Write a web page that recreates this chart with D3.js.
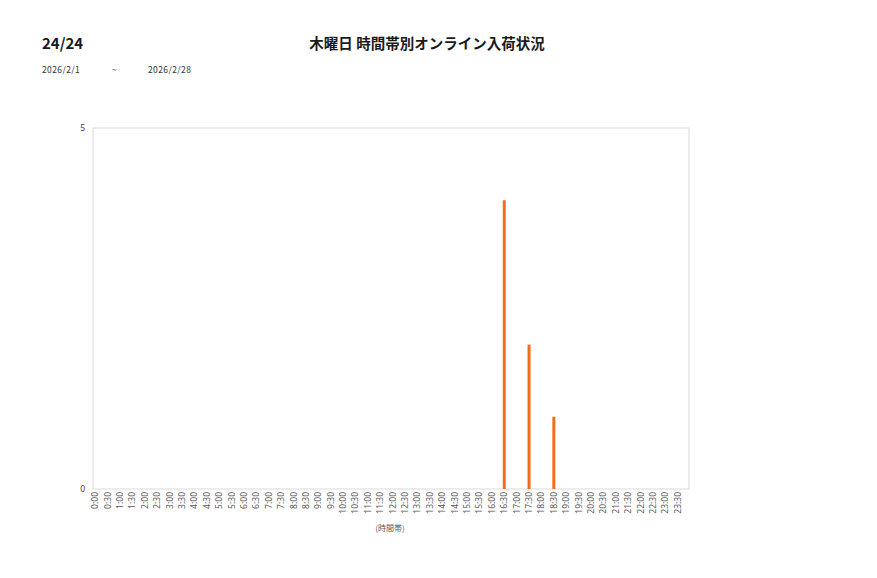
<!DOCTYPE html>
<html><head><meta charset="utf-8">
<script src="https://cdn.jsdelivr.net/npm/d3@7"></script>
<style>
body{margin:0;background:#fff;}
svg{display:block;font-family:"Noto Sans CJK JP","Noto Sans",sans-serif;}
</style></head>
<body><svg id="c" width="877" height="578"></svg>
<script>
const pageLabel = "24/24";
const chartTitle = "木曜日 時間帯別オンライン入荷状況";
const dateFrom = "2026/2/1";
const dateSep = "~";
const dateTo = "2026/2/28";
const xAxisTitle = "(時間帯)";
const timeSlots = [];
for (let h = 0; h < 24; h++) { timeSlots.push(h + ":00"); timeSlots.push(h + ":30"); }
const barSlots = ["16:30", "17:30", "18:30"];
const barValues = [4, 2, 1];
const yTicks = [0, 5];

const svg = d3.select("#c");
const plot = {left: 93, right: 689, top: 128, bottom: 489};

const x = d3.scaleBand().domain(timeSlots).range([89, 684]);
const y = d3.scaleLinear().domain([0, 5]).range([plot.bottom, plot.top]);

// titles
svg.append("text").attr("x", 42).attr("y", 49).attr("font-size", 15).attr("font-weight", 600)
  .attr("fill", "#1a1a1a").text(pageLabel);
svg.append("text").attr("x", 427).attr("y", 49).attr("text-anchor", "middle").attr("font-size", 14.5)
  .attr("font-weight", 600).attr("fill", "#1a1a1a").text(chartTitle);
svg.append("text").attr("x", 42).attr("y", 73).attr("font-size", 8.5).attr("fill", "#333").attr("letter-spacing", 0.4).text(dateFrom);
svg.append("text").attr("x", 112).attr("y", 73).attr("font-size", 8.5).attr("fill", "#333").text(dateSep);
svg.append("text").attr("x", 148).attr("y", 73).attr("font-size", 8.5).attr("fill", "#333").attr("letter-spacing", 0.4).text(dateTo);

// plot frame
svg.append("rect").attr("x", plot.left).attr("y", plot.top)
  .attr("width", plot.right - plot.left).attr("height", plot.bottom - plot.top)
  .attr("fill", "none").attr("stroke", "#d9d9d9").attr("stroke-width", 1);

// y axis labels
const yAxis = d3.axisLeft(y).tickValues(yTicks).tickFormat(d3.format("d")).tickSize(0).tickPadding(8);
const gy = svg.append("g").attr("transform", `translate(${plot.left},0)`).call(yAxis);
gy.select(".domain").remove();
gy.selectAll("text").attr("font-size", 8.5).attr("fill", "#404040").attr("font-family", "Noto Sans, sans-serif");

// x axis labels
const xAxis = d3.axisBottom(x).tickSize(0).tickPadding(0);
const gx = svg.append("g").attr("transform", `translate(0,${plot.bottom})`).call(xAxis);
gx.select(".domain").remove();
gx.selectAll("text")
  .attr("font-size", 8.5).attr("fill", "#595959").attr("font-family", "Noto Sans, sans-serif")
  .attr("text-anchor", "end").attr("dy", "0.35em")
  .attr("transform", "translate(0,3) rotate(-90)").attr("x", 0).attr("y", 0);

svg.append("text").attr("x", 390).attr("y", 531).attr("text-anchor", "middle")
  .attr("font-size", 8).attr("fill", "#595959").text(xAxisTitle);

// bars
const bw = 3;
svg.append("g").selectAll("rect").data(barSlots).join("rect")
  .attr("x", d => x(d) + x.bandwidth() / 2 - bw / 2)
  .attr("width", bw)
  .attr("y", (d, i) => y(barValues[i]))
  .attr("height", (d, i) => y(0) - y(barValues[i]))
  .attr("fill", "#f26d16");
</script></body></html>
